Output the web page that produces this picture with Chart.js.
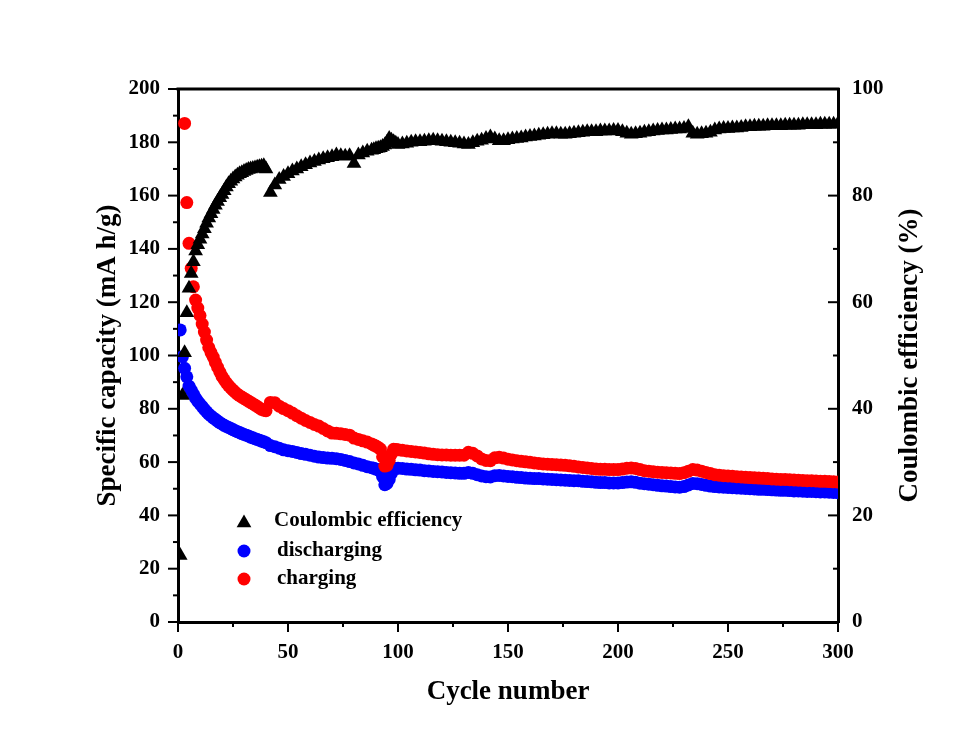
<!DOCTYPE html>
<html>
<head>
<meta charset="utf-8">
<script src="https://cdn.jsdelivr.net/npm/chart.js@4.4.1/dist/chart.umd.min.js"></script>
<style>
  html, body { margin: 0; padding: 0; background: #fff; }
  #wrap { width: 958px; height: 738px; }
</style>
</head>
<body>
<div id="wrap"><canvas id="chart"></canvas></div>
<script>
// cycle numbers: every cycle where the curves move fast, every 2nd elsewhere
const cycles = [
  1, 2, 3, 4, 5, 6, 7, 8, 9, 10,
  11, 12, 13, 14, 15, 16, 17, 18, 19, 20,
  21, 22, 23, 24, 25, 26, 27, 28, 29, 30,
  31, 32, 33, 34, 35, 36, 37, 38, 39, 40,
  42, 44, 46, 48, 50, 52, 54, 56, 58, 60,
  62, 64, 66, 68, 70, 72, 74, 76, 78, 80,
  82, 84, 86, 88,
  89, 90, 91, 92, 93, 94, 95, 96, 97, 98, 99, 100,
  102, 104, 106, 108, 110, 112, 114, 116, 118, 120,
  122, 124, 126, 128, 130, 132, 134, 136, 138, 140,
  142, 144, 146, 148, 150, 152, 154, 156, 158, 160,
  162, 164, 166, 168, 170, 172, 174, 176, 178, 180,
  182, 184, 186, 188, 190, 192, 194, 196, 198, 200,
  202, 204, 206, 208, 210, 212, 214, 216, 218, 220,
  222, 224, 226, 228, 230, 232, 234, 236, 238, 240,
  242, 244, 246, 248, 250, 252, 254, 256, 258, 260,
  262, 264, 266, 268, 270, 272, 274, 276, 278, 280,
  282, 284, 286, 288, 290, 292, 294, 296, 298, 300
];

// Coulombic efficiency, % (right axis)
const coulombicEfficiency = [
  12.5, 42.5, 50.5, 58.0, 62.6, 65.4, 67.6, 69.6, 70.8, 71.8,
  72.8, 73.8, 74.8, 75.8, 76.6, 77.4, 78.2, 78.9, 79.6, 80.2,
  80.9, 81.6, 82.2, 82.7, 83.1, 83.5, 83.8, 84.1, 84.3, 84.5,
  84.7, 84.9, 85.0, 85.1, 85.2, 85.3, 85.4, 85.5, 85.6, 85.0,
  80.6, 82.0, 83.0, 83.6, 84.1, 84.6, 85.0, 85.4, 85.8, 86.1,
  86.4, 86.7, 86.9, 87.1, 87.3, 87.6, 87.5, 87.4, 87.5, 86.0,
  87.6, 88.0, 88.3, 88.5,
  88.6, 88.8, 88.9, 89.0, 89.2, 89.5, 90.0, 90.7, 90.4, 90.1, 89.8, 89.6,
  89.7, 89.8, 90.0, 90.1, 90.1, 90.2, 90.3, 90.4, 90.3, 90.2,
  90.1, 90.0, 89.9, 89.8, 89.7, 89.6, 89.9, 90.2, 90.4, 90.7,
  91.0, 90.6, 90.3, 90.3, 90.5, 90.6, 90.7, 90.8, 91.0, 91.1,
  91.2, 91.3, 91.4, 91.5, 91.6, 91.6, 91.5, 91.5, 91.6, 91.7,
  91.8, 91.9, 92.0, 92.0, 92.0, 92.1, 92.1, 92.1, 92.2, 92.2,
  92.0, 91.7, 91.5, 91.6, 91.7, 91.9, 92.0, 92.1, 92.2, 92.3,
  92.3, 92.4, 92.5, 92.5, 92.6, 92.9, 91.7, 91.5, 91.6, 91.7,
  91.9, 92.3, 92.5, 92.6, 92.6, 92.7, 92.7, 92.8, 92.9, 92.9,
  93.0, 93.0, 93.0, 93.1, 93.1, 93.1, 93.1, 93.2, 93.2, 93.2,
  93.2, 93.3, 93.3, 93.3, 93.3, 93.4, 93.4, 93.4, 93.4, 93.5
];

// discharge capacity, mA h/g
const discharging = [
  109.6, 99.5, 95.2, 92.0, 88.5, 87.0, 85.5, 84.0, 82.8, 81.8,
  80.8, 79.8, 78.9, 78.0, 77.3, 76.6, 76.0, 75.4, 74.8, 74.3,
  73.8, 73.4, 73.0, 72.6, 72.2, 71.8, 71.4, 71.1, 70.7, 70.4,
  70.1, 69.8, 69.4, 69.1, 68.8, 68.5, 68.2, 67.9, 67.6, 67.3,
  66.2, 65.8, 65.2, 64.6, 64.3, 64.0, 63.6, 63.2, 62.9, 62.6,
  62.2, 61.9, 61.7, 61.5, 61.4, 61.3, 61.0, 60.6, 60.2, 59.7,
  59.3, 58.8, 58.3, 57.9,
  57.7, 57.4, 57.1, 56.5, 54.5, 51.5, 52.0, 53.5, 55.8, 57.5, 57.6, 57.7,
  57.6, 57.4, 57.3, 57.1, 57.0, 56.8, 56.7, 56.5, 56.4, 56.3,
  56.1, 56.0, 55.9, 55.8, 55.8, 56.1, 55.8, 55.3, 54.8, 54.5,
  54.4, 54.9, 55.0, 54.8, 54.6, 54.5, 54.3, 54.2, 54.0, 53.9,
  53.8, 53.8, 53.7, 53.6, 53.5, 53.4, 53.3, 53.2, 53.1, 53.0,
  53.0, 52.8, 52.7, 52.6, 52.4, 52.3, 52.3, 52.2, 52.2, 52.2,
  52.3, 52.5, 52.6, 52.4, 52.1, 51.9, 51.7, 51.5, 51.3, 51.1,
  51.0, 50.8, 50.7, 50.6, 50.8, 51.4, 52.0, 51.9, 51.6, 51.3,
  51.0, 50.8, 50.7, 50.6, 50.5, 50.4, 50.3, 50.2, 50.1, 50.0,
  49.9, 49.8, 49.8, 49.7, 49.6, 49.5, 49.4, 49.4, 49.3, 49.2,
  49.2, 49.1, 49.0, 49.0, 48.9, 48.8, 48.8, 48.7, 48.6, 48.5
];

// charge capacity, mA h/g (first two cycles are off the scale)
const charging = [
  null, null, 187.1, 157.4, 142.1, 132.7, 125.8, 120.8, 117.8, 115.0,
  111.8, 108.8, 105.8, 103.0, 101.1, 99.4, 97.4, 95.6, 93.8, 92.2,
  90.9, 89.7, 88.7, 87.8, 87.0, 86.2, 85.5, 84.9, 84.4, 83.9,
  83.4, 82.9, 82.4, 81.9, 81.4, 80.9, 80.3, 79.8, 79.5, 79.3,
  82.4, 82.3, 81.0, 80.1, 79.3, 78.4, 77.4, 76.5, 75.6, 74.9,
  74.1, 73.5, 72.6, 71.7, 70.9, 70.8, 70.6, 70.4, 70.1, 69.0,
  68.5, 68.0, 67.5, 66.8,
  66.4, 66.0, 65.5, 64.9, 62.0, 58.5, 58.8, 60.6, 63.0, 64.8, 64.7, 64.6,
  64.4, 64.2, 64.0, 63.8, 63.6, 63.4, 63.1, 62.9, 62.8, 62.7,
  62.7, 62.6, 62.6, 62.6, 62.6, 63.7, 63.3, 62.3, 61.2, 60.6,
  60.5, 61.6, 61.8, 61.5, 61.1, 60.8, 60.5, 60.3, 60.1, 59.9,
  59.7, 59.5, 59.3, 59.2, 59.1, 59.0, 58.9, 58.8, 58.6, 58.4,
  58.2, 58.0, 57.8, 57.6, 57.4, 57.3, 57.3, 57.2, 57.2, 57.2,
  57.4, 57.7, 57.8, 57.6, 57.2, 56.8, 56.6, 56.4, 56.2, 56.1,
  56.0, 55.9, 55.8, 55.7, 56.0, 56.6, 57.2, 57.0, 56.6, 56.1,
  55.7, 55.3, 55.1, 54.9, 54.8, 54.7, 54.5, 54.4, 54.3, 54.2,
  54.1, 54.0, 53.9, 53.8, 53.7, 53.6, 53.5, 53.5, 53.4, 53.3,
  53.2, 53.1, 53.0, 53.0, 52.9, 52.8, 52.8, 52.7, 52.6, 52.5
];

const xTicks = [0, 50, 100, 150, 200, 250, 300];
const xMinor = [25, 75, 125, 175, 225, 275];
const capTicks = [0, 20, 40, 60, 80, 100, 120, 140, 160, 180, 200];
const capMinor = [10, 30, 50, 70, 90, 110, 130, 150, 170, 190];
const ceTicks = [0, 20, 40, 60, 80, 100];
const ceMinor = [10, 30, 50, 70, 90];

const serif = "'Liberation Serif', 'Times New Roman', serif";
const pts = arr => cycles.map((c, i) => ({ x: c, y: arr[i] })).filter(p => p.y !== null);

// top frame line, tick marks, right title and legend
const frame = {
  id: 'frame',
  afterDraw(chart) {
    const { ctx, chartArea: a, scales } = chart;
    const line = (x1, y1, x2, y2) => {
      ctx.beginPath(); ctx.moveTo(x1, y1); ctx.lineTo(x2, y2); ctx.stroke();
    };
    ctx.save();
    ctx.strokeStyle = '#000';
    ctx.lineWidth = 3;
    line(a.left - 1.5, a.top, a.right + 1.5, a.top);

    ctx.lineWidth = 2;
    xTicks.forEach(v => { const x = scales.x.getPixelForValue(v); line(x, a.bottom, x, a.bottom + 10); });
    xMinor.forEach(v => { const x = scales.x.getPixelForValue(v); line(x, a.bottom, x, a.bottom + 5); });
    capTicks.forEach(v => { const y = scales.y.getPixelForValue(v); line(a.left, y, a.left - 10, y); });
    capMinor.forEach(v => { const y = scales.y.getPixelForValue(v); line(a.left, y, a.left - 5, y); });
    ceTicks.forEach(v => { const y = scales.y1.getPixelForValue(v); line(a.right, y, a.right - 10, y); });
    ceMinor.forEach(v => { const y = scales.y1.getPixelForValue(v); line(a.right, y, a.right - 5, y); });

    // right axis title, reads bottom to top
    ctx.fillStyle = '#000';
    ctx.font = 'bold 27px ' + serif;
    ctx.save();
    ctx.translate(a.right + 72, (a.top + a.bottom) / 2);
    ctx.rotate(-Math.PI / 2);
    ctx.textAlign = 'center';
    ctx.textBaseline = 'middle';
    ctx.fillText('Coulombic efficiency (%)', 0, 0);
    ctx.restore();

    // legend
    const mx = a.left + 66, tx = a.left + 96;
    const rows = [
      { y: a.bottom - 101, label: 'Coulombic efficiency', style: 'triangle', color: '#000' },
      { y: a.bottom - 71, label: 'discharging', style: 'circle', color: '#0000ff' },
      { y: a.bottom - 43, label: 'charging', style: 'circle', color: '#ff0000' }
    ];
    ctx.font = 'bold 21px ' + serif;
    ctx.textAlign = 'left';
    ctx.textBaseline = 'middle';
    rows.forEach(r => {
      ctx.fillStyle = r.color;
      ctx.beginPath();
      if (r.style === 'triangle') {
        const R = 8.5, cy = r.y + 2;
        ctx.moveTo(mx, cy - R);
        ctx.lineTo(mx + R * Math.sin(Math.PI / 3), cy + R / 2);
        ctx.lineTo(mx - R * Math.sin(Math.PI / 3), cy + R / 2);
        ctx.closePath();
      } else {
        ctx.arc(mx, r.y, 6.5, 0, Math.PI * 2);
      }
      ctx.fill();
      ctx.fillStyle = '#000';
      ctx.fillText(r.label, tx + (r.style === 'circle' ? 3 : 0), r.y);
    });
    ctx.restore();
  }
};

const tickFont = { family: serif, size: 21, weight: 'bold' };
const titleFont = { family: serif, size: 27, weight: 'bold' };

new Chart(document.getElementById('chart').getContext('2d'), {
  type: 'scatter',
  data: {
    datasets: [
      {
        label: 'Coulombic efficiency',
        data: pts(coulombicEfficiency),
        yAxisID: 'y1',
        pointStyle: 'triangle',
        pointRadius: 8.5,
        backgroundColor: '#000',
        borderWidth: 0,
        clip: 0
      },
      {
        label: 'charging',
        data: pts(charging),
        yAxisID: 'y',
        pointStyle: 'circle',
        pointRadius: 6.5,
        backgroundColor: '#ff0000',
        borderWidth: 0,
        clip: 0
      },
      {
        label: 'discharging',
        data: pts(discharging),
        yAxisID: 'y',
        pointStyle: 'circle',
        pointRadius: 6.5,
        backgroundColor: '#0000ff',
        borderWidth: 0,
        clip: 0
      }
    ]
  },
  options: {
    animation: false,
    responsive: true,
    maintainAspectRatio: false,
    layout: { padding: { top: 89, left: 0, right: 0, bottom: 0 } },
    plugins: { legend: { display: false }, tooltip: { enabled: false } },
    scales: {
      x: {
        type: 'linear',
        position: 'bottom',
        min: 0,
        max: 300,
        afterBuildTicks: s => { s.ticks = xTicks.map(v => ({ value: v })); },
        afterFit: s => { s.height = 116; },
        grid: { drawOnChartArea: false, drawTicks: false },
        border: { color: '#000', width: 3 },
        ticks: { font: tickFont, color: '#000', padding: 18, maxRotation: 0, autoSkip: false },
        title: { display: true, text: 'Cycle number', font: titleFont, color: '#000', padding: { top: 0, bottom: 30 } }
      },
      y: {
        type: 'linear',
        position: 'left',
        min: 0,
        max: 200,
        afterBuildTicks: s => { s.ticks = capTicks.map(v => ({ value: v })); },
        afterFit: s => { s.width = 178; },
        grid: { drawOnChartArea: false, drawTicks: false },
        border: { color: '#000', width: 3 },
        ticks: { font: tickFont, color: '#000', padding: 18, autoSkip: false },
        title: { display: true, text: 'Specific capacity (mA h/g)', font: titleFont, color: '#000', padding: { top: 92, bottom: 0 } }
      },
      y1: {
        type: 'linear',
        position: 'right',
        min: 0,
        max: 100,
        afterBuildTicks: s => { s.ticks = ceTicks.map(v => ({ value: v })); },
        afterFit: s => { s.width = 120; },
        grid: { drawOnChartArea: false, drawTicks: false },
        border: { color: '#000', width: 3 },
        ticks: { font: tickFont, color: '#000', padding: 14, autoSkip: false }
      }
    }
  },
  plugins: [frame]
});
</script>
</body>
</html>
